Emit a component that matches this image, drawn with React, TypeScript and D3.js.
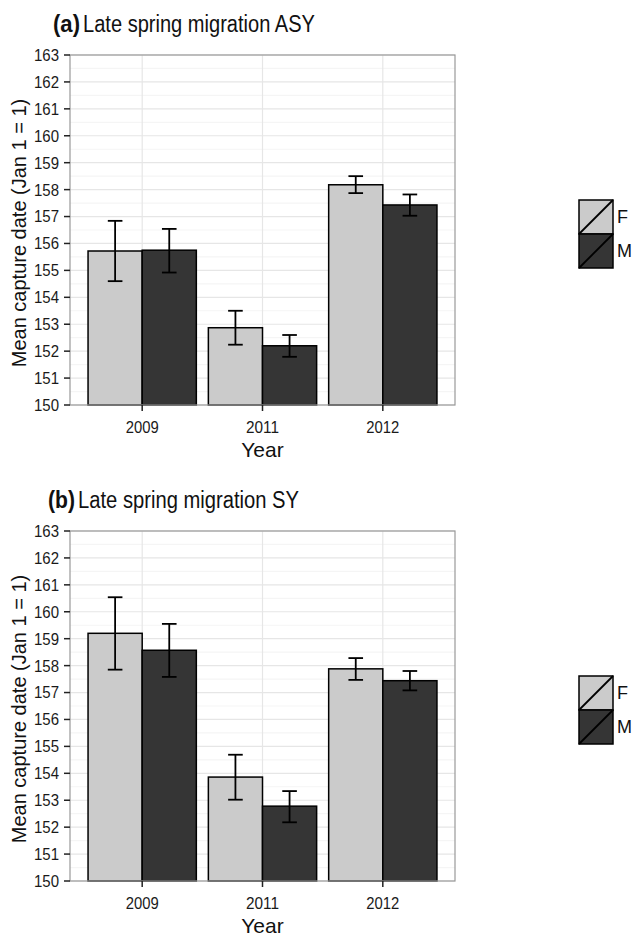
import { range, scaleBand, scaleLinear, scalePoint } from "d3";

const years = ["2009", "2011", "2012"];
const sexes = ["F", "M"];
const yTicks = range(150, 164);

// panel (a): late spring migration ASY
const asyMean = [
  [155.72, 155.75],
  [152.87, 152.2],
  [158.18, 157.43]
];
const asyLow = [
  [154.6, 154.92],
  [152.24, 151.79],
  [157.87, 157.03]
];
const asyHigh = [
  [156.84, 156.54],
  [153.5, 152.6],
  [158.5, 157.82]
];

// panel (b): late spring migration SY
const syMean = [
  [159.2, 158.57],
  [153.86, 152.78],
  [157.88, 157.44]
];
const syLow = [
  [157.85, 157.58],
  [153.02, 152.18],
  [157.47, 157.08]
];
const syHigh = [
  [160.54, 159.55],
  [154.69, 153.34],
  [158.28, 157.8]
];

const fills: Record<string, string> = { F: "#cbcbcb", M: "#353535" };
const font = "'Liberation Sans', Arial, Helvetica, sans-serif";

const plotLeft = 70;
const plotRight = 455;
const plotHeight = 350;

interface PanelProps {
  readonly top: number;
  readonly tag: string;
  readonly title: string;
  readonly titleX: number;
  readonly titleWidth: number;
  readonly means: number[][];
  readonly lows: number[][];
  readonly highs: number[][];
  readonly legendTop: number;
}

function Panel({
  top,
  tag,
  title,
  titleX,
  titleWidth,
  means,
  lows,
  highs,
  legendTop
}: PanelProps): React.JSX.Element {
  const bottom = top + plotHeight;
  const x = scalePoint<string>().domain(years).range([plotLeft, plotRight]).padding(0.6);
  const step = x.step();
  const dodge = scaleBand<string>().domain(sexes).range([-0.45 * step, 0.45 * step]);
  const y = scaleLinear().domain([150, 163]).range([bottom, top]);
  const capHalf = dodge.bandwidth() * 0.135;
  const minor = yTicks.slice(0, -1).map((t) => t + 0.5);

  return (
    <g fontFamily={font}>
      <text x={titleX} y={top - 23} fontSize={23} fontWeight="bold" fill="#111" textLength={27} lengthAdjust="spacingAndGlyphs">
        {tag}
      </text>
      <text
        x={titleX + 30}
        y={top - 23}
        fontSize={23}
        fill="#111"
        textLength={titleWidth}
        lengthAdjust="spacingAndGlyphs"
      >
        {title}
      </text>
      <rect x={plotLeft} y={top} width={plotRight - plotLeft} height={plotHeight} fill="#fff" />
      {minor.map((t) => (
        <line key={`m${t}`} x1={plotLeft} x2={plotRight} y1={y(t)} y2={y(t)} stroke="#f5f5f5" strokeWidth={1.2} />
      ))}
      {yTicks.map((t) => (
        <line key={`g${t}`} x1={plotLeft} x2={plotRight} y1={y(t)} y2={y(t)} stroke="#e6e6e6" strokeWidth={1.2} />
      ))}
      {years.map((yr) => (
        <line key={`v${yr}`} x1={x(yr)} x2={x(yr)} y1={top} y2={bottom} stroke="#e6e6e6" strokeWidth={1.2} />
      ))}
      {years.map((yr, i) =>
        sexes.map((s, j) => {
          const bx = (x(yr) ?? 0) + (dodge(s) ?? 0);
          return (
            <rect
              key={`b${yr}${s}`}
              x={bx}
              y={y(means[i][j])}
              width={dodge.bandwidth()}
              height={bottom - y(means[i][j])}
              fill={fills[s]}
              stroke="#000"
              strokeWidth={1.5}
            />
          );
        })
      )}
      {years.map((yr, i) =>
        sexes.map((s, j) => {
          const cx = (x(yr) ?? 0) + (dodge(s) ?? 0) + dodge.bandwidth() / 2;
          return (
            <g key={`e${yr}${s}`} stroke="#000" strokeWidth={1.8}>
              <line x1={cx} x2={cx} y1={y(lows[i][j])} y2={y(highs[i][j])} />
              <line x1={cx - capHalf} x2={cx + capHalf} y1={y(lows[i][j])} y2={y(lows[i][j])} />
              <line x1={cx - capHalf} x2={cx + capHalf} y1={y(highs[i][j])} y2={y(highs[i][j])} />
            </g>
          );
        })
      )}
      <rect x={plotLeft} y={top} width={plotRight - plotLeft} height={plotHeight} fill="none" stroke="#999" strokeWidth={1.2} />
      {yTicks.map((t) => (
        <g key={`t${t}`}>
          <line x1={plotLeft - 6} x2={plotLeft} y1={y(t)} y2={y(t)} stroke="#222" strokeWidth={1.5} />
          <text
            x={plotLeft - 11}
            y={y(t)}
            dy="0.36em"
            textAnchor="end"
            fontSize={16.5}
            fill="#1a1a1a"
            textLength={25}
            lengthAdjust="spacingAndGlyphs"
          >
            {t}
          </text>
        </g>
      ))}
      {years.map((yr) => (
        <g key={`xt${yr}`}>
          <line x1={x(yr)} x2={x(yr)} y1={bottom} y2={bottom + 6} stroke="#222" strokeWidth={1.5} />
          <text
            x={x(yr)}
            y={bottom + 28}
            textAnchor="middle"
            fontSize={16.5}
            fill="#1a1a1a"
            textLength={33}
            lengthAdjust="spacingAndGlyphs"
          >
            {yr}
          </text>
        </g>
      ))}
      <text x={(plotLeft + plotRight) / 2} y={bottom + 52} textAnchor="middle" fontSize={21} fill="#111">
        Year
      </text>
      <text
        transform={`translate(26,${(top + bottom) / 2 + 3}) rotate(-90)`}
        textAnchor="middle"
        fontSize={20}
        fill="#111"
      >
        Mean capture date (Jan 1 = 1)
      </text>
      {sexes.map((s, j) => {
        const ly = legendTop + j * 34;
        return (
          <g key={`l${s}`}>
            <rect x={579} y={ly} width={34} height={34} fill={fills[s]} stroke="#000" strokeWidth={1.5} />
            <line x1={579} y1={ly + 34} x2={613} y2={ly} stroke="#000" strokeWidth={1.8} />
            <text x={617} y={ly + 17} dy="0.36em" fontSize={18} fill="#111">
              {s}
            </text>
          </g>
        );
      })}
    </g>
  );
}

export default function App(): React.JSX.Element {
  return (
    <svg
      width={633}
      height={937}
      viewBox="0 0 633 937"
      style={{ position: "absolute", left: 0, top: 0, background: "#fff" }}
    >
      <rect width={633} height={937} fill="#fff" />
      <Panel
        top={55}
        tag="(a)"
        title="Late spring migration ASY"
        titleX={53}
        titleWidth={232}
        means={asyMean}
        lows={asyLow}
        highs={asyHigh}
        legendTop={200}
      />
      <Panel
        top={531}
        tag="(b)"
        title="Late spring migration SY"
        titleX={48}
        titleWidth={221}
        means={syMean}
        lows={syLow}
        highs={syHigh}
        legendTop={676}
      />
    </svg>
  );
}
